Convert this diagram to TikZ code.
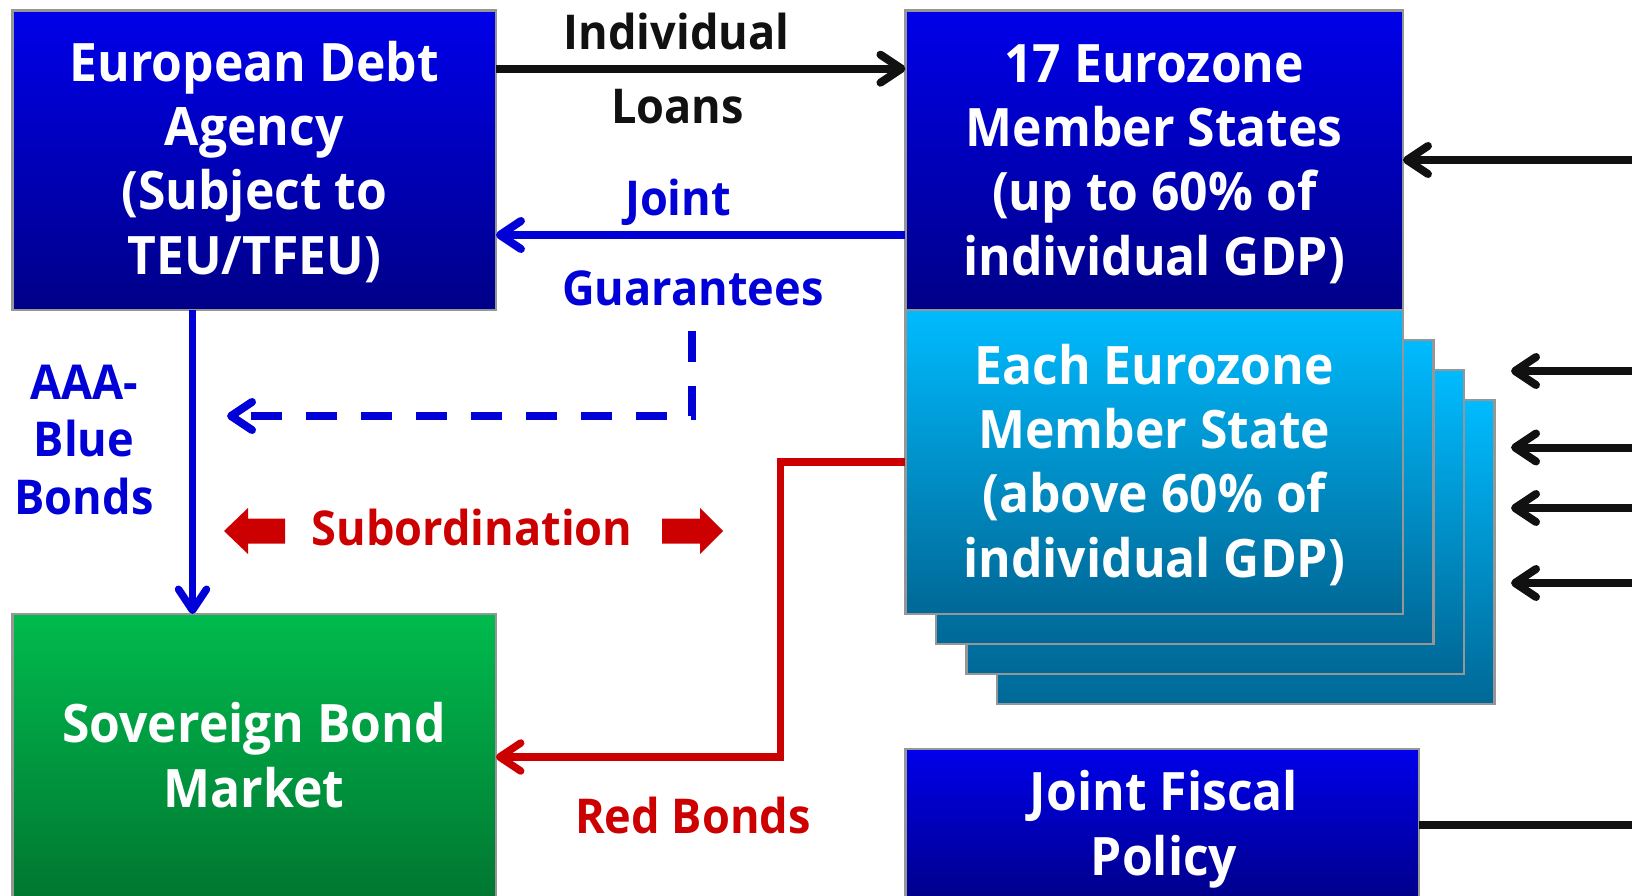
\documentclass[tikz,border=0pt]{standalone}
\usepackage{fontspec}
\setmainfont{Open Sans}[FakeStretch=0.94]
\usetikzlibrary{arrows.meta}
\definecolor{bbtop}{RGB}{0,0,235}
\definecolor{bbbot}{RGB}{0,0,135}
\definecolor{cytop}{RGB}{0,187,255}
\definecolor{cybot}{RGB}{0,104,150}
\definecolor{grtop}{RGB}{0,187,78}
\definecolor{grbot}{RGB}{0,118,48}
\definecolor{edgegray}{RGB}{150,150,150}
\definecolor{inkblack}{RGB}{17,17,17}
\definecolor{inkblue}{RGB}{0,0,215}
\definecolor{inkred}{RGB}{204,0,0}
\begin{document}
\begin{tikzpicture}[x=1pt,y=-1pt,
  boxfont/.style={font={\fontsize{53}{64.3}\selectfont\bfseries}},
  lblfont/.style={font={\fontsize{48}{57.5}\selectfont\bfseries}},
  box/.style={draw=edgegray, line width=2.5pt, inner sep=0pt, outer sep=0pt},
  bluebox/.style={box, top color=bbtop, bottom color=bbbot},
  cyanbox/.style={box, top color=cytop, bottom color=cybot},
  greenbox/.style={box, top color=grtop, bottom color=grbot},
  boxtext/.style={inner sep=0pt, align=center, text=white, boxfont, anchor=base},
  tip/.style={-{Straight Barb[length=21pt,width=28pt,round]}},
  blkarrow/.style={draw=inkblack, line width=8pt, tip},
  bluearrow/.style={draw=inkblue, line width=8pt, tip},
  redarrow/.style={draw=inkred, line width=7.5pt, tip},
  lbl/.style={inner sep=0pt, lblfont, anchor=base}
]
\useasboundingbox (0,0) rectangle (1632,896);

% stacked member-state boxes (back to front)
\node[cyanbox, minimum width=497.5pt, minimum height=304pt] (st4) at (1245.7,552) {};
\node[cyanbox, minimum width=497.5pt, minimum height=304pt] (st3) at (1215.2,522) {};
\node[cyanbox, minimum width=497.5pt, minimum height=304pt] (st2) at (1184.7,492) {};
\node[cyanbox, minimum width=497.5pt, minimum height=304pt] (each) at (1154.2,462) {};

\node[bluebox, minimum width=483.5pt, minimum height=299.6pt] (eda) at (254.2,160.2) {};
\node[bluebox, minimum width=497.5pt, minimum height=299.6pt] (ms) at (1154.2,160.2) {};
\node[greenbox, minimum width=483.5pt, minimum height=286pt] (sbm) at (254.2,757) {};
\node[bluebox, minimum width=513.5pt, minimum height=155pt] (jfp) at (1162.2,826.5) {};

% box texts (anchored at the baseline of the last line)
\node[boxtext] (edat) at (254.2,274) {European Debt\\Agency\\(Subject to\\TEU/TFEU)};
\node[boxtext] (mst) at (1154.2,275) {17 Eurozone\\Member States\\(up to 60\% of\\individual GDP)};
\node[boxtext] (eacht) at (1154.2,577) {Each Eurozone\\Member State\\(above 60\% of\\individual GDP)};
\node[boxtext] (sbmt) at (254.2,807) {Sovereign Bond\\Market};
\node[boxtext] (jfpt) at (1164,875) {Joint Fiscal\\Policy};

% labels
\node[lbl, text=inkblack] (lind) at (676.5,49.3) {Individual};
\node[lbl, text=inkblack] (lloan) at (677.5,124) {Loans};
\node[lbl, text=inkblue] (ljoint) at (678,215) {Joint};
\node[lbl, text=inkblue] (lguar) at (693,305) {Guarantees};
\node[lbl, text=inkblue, align=center] (laaa) at (84,514) {AAA-\\Blue\\Bonds};
\node[lbl, text=inkred] (lsub) at (472,545) {Subordination};
\node[lbl, text=inkred] (lred) at (693,833) {Red Bonds};

% coordinates for connector ends
\coordinate (yil) at (0,68.7);
\coordinate (yjg) at (0,235);
\coordinate (xaaa) at (192.5,0);
\coordinate (dg1) at (692,331);
\coordinate (dg2) at (692,416);
\coordinate (dgend) at (227,416);
\coordinate (rb1) at (780.6,462);
\coordinate (rb2) at (780.6,757);
\coordinate (r0) at (1632,160);
\coordinate (r1) at (1632,371);
\coordinate (r1e) at (1511,371);
\coordinate (r2) at (1632,447.5);
\coordinate (r2e) at (1511,447.5);
\coordinate (r3) at (1632,508);
\coordinate (r3e) at (1511,508);
\coordinate (r4) at (1632,583);
\coordinate (r4e) at (1511,583);
\coordinate (rj) at (1632,825);

% connectors
\draw[blkarrow] (eda.east |- yil) -- (ms.west |- yil);
\draw[bluearrow] (ms.west |- yjg) -- (eda.east |- yjg);
\draw[bluearrow, line width=7.5pt] (eda.south -| xaaa) -- (sbm.north -| xaaa);
\draw[bluearrow, dash pattern=on 31pt off 24pt, line cap=butt] (dg1) -- (dg2) -- (dgend);
\draw[redarrow, line join=miter] (each.west) -- (rb1) -- (rb2) -- (sbm.east);
\draw[blkarrow] (r0) -- (ms.east |- r0);
\draw[blkarrow] (r1) -- (r1e);
\draw[blkarrow] (r2) -- (r2e);
\draw[blkarrow] (r3) -- (r3e);
\draw[blkarrow] (r4) -- (r4e);
\draw[draw=inkblack, line width=8pt] (jfp.east |- rj) -- (rj);

% subordination block arrows
\fill[inkred] (224,531) -- (248,508) -- (248,518.5) -- (285,518.5) -- (285,543.5) -- (248,543.5) -- (248,554) -- cycle;
\fill[inkred] (723,531) -- (700,508) -- (700,518.5) -- (662,518.5) -- (662,543.5) -- (700,543.5) -- (700,554) -- cycle;
\end{tikzpicture}
\end{document}
